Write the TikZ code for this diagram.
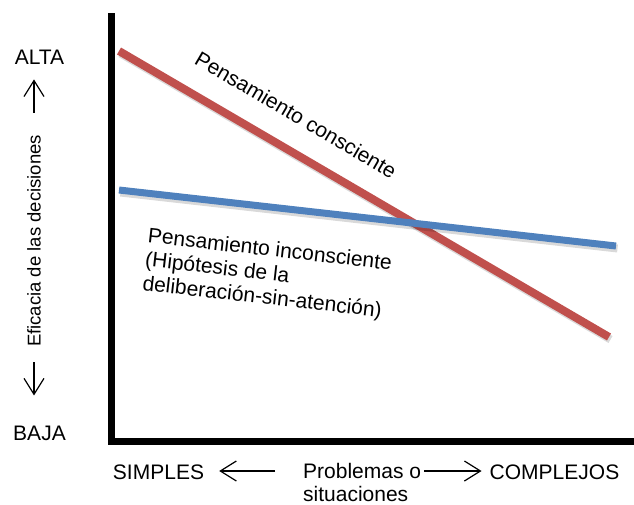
\documentclass[tikz,border=0pt]{standalone}
\usepackage{fontspec}
\setmainfont{Liberation Sans}
\usetikzlibrary{arrows.meta}
\definecolor{rojo}{HTML}{C0504D}
\definecolor{azul}{HTML}{4F81BD}
\tikzset{
  eje/.style={line width=7pt},
  recta/.style={line width=8pt},
  sombra/.style={line width=8pt, black, opacity=.15, transform canvas={shift={(1.5pt,-2.5pt)}}},
  flecha/.style={line width=1.2pt, -{Straight Barb[length=16pt,width=20pt]}},
  texto/.style={inner sep=0pt, font=\fontsize{21}{24}\selectfont},
}
\begin{document}
\begin{tikzpicture}[x=1pt,y=-1pt]
\useasboundingbox (0,0) rectangle (634,504);
% ejes
\coordinate (tope) at (111,13);
\coordinate (origen) at (111,441);
\coordinate (fin) at (634,441);
\draw[eje] (tope) -- (origen) -- (fin);
% rectas
\coordinate (c1) at (119,51);
\coordinate (c2) at (609,337);
\coordinate (i1) at (119,190);
\coordinate (i2) at (616,246);
\draw[sombra] (c1) -- (c2);
\draw[recta, rojo] (c1) -- (c2);
\draw[sombra] (i1) -- (i2);
\draw[recta, azul, line width=7pt] (i1) -- (i2);
% etiquetas
\node[texto, rotate=-30.3] (consciente) at (296,115) {Pensamiento consciente};
\node[texto, rotate=-6.5, anchor=north west, align=left] (inconsciente) at (149,227)
  {Pensamiento inconsciente\\(Hipótesis de la\\deliberación-sin-atención)};
% eje vertical
\node[texto, font=\fontsize{18.5}{22}\selectfont, rotate=90] (eficacia) at (34,241) {Eficacia de las decisiones};
\node[texto] (alta) at (39.5,57) {ALTA};
\node[texto] (baja) at (39.5,433) {BAJA};
\draw[flecha, shorten <=22pt, shorten >=15pt] (eficacia.east) -- (eficacia.east |- alta.south);
\draw[flecha, shorten <=15pt, shorten >=30pt] (eficacia.west) -- (eficacia.west |- baja.north);
% eje horizontal
\node[texto] (simples) at (158.5,472) {SIMPLES};
\node[texto, anchor=west] (problemas) at (303,471) {Problemas o};
\node[texto, anchor=west] (situaciones) at (303,494) {situaciones};
\node[texto] (complejos) at (554.5,472) {COMPLEJOS};
\draw[flecha, shorten <=28pt, shorten >=15pt] (problemas.west) -- (problemas.west -| simples.east);
\draw[flecha, shorten <=3pt, shorten >=8pt] (problemas.east) -- (problemas.east -| complejos.west);
\end{tikzpicture}
\end{document}
